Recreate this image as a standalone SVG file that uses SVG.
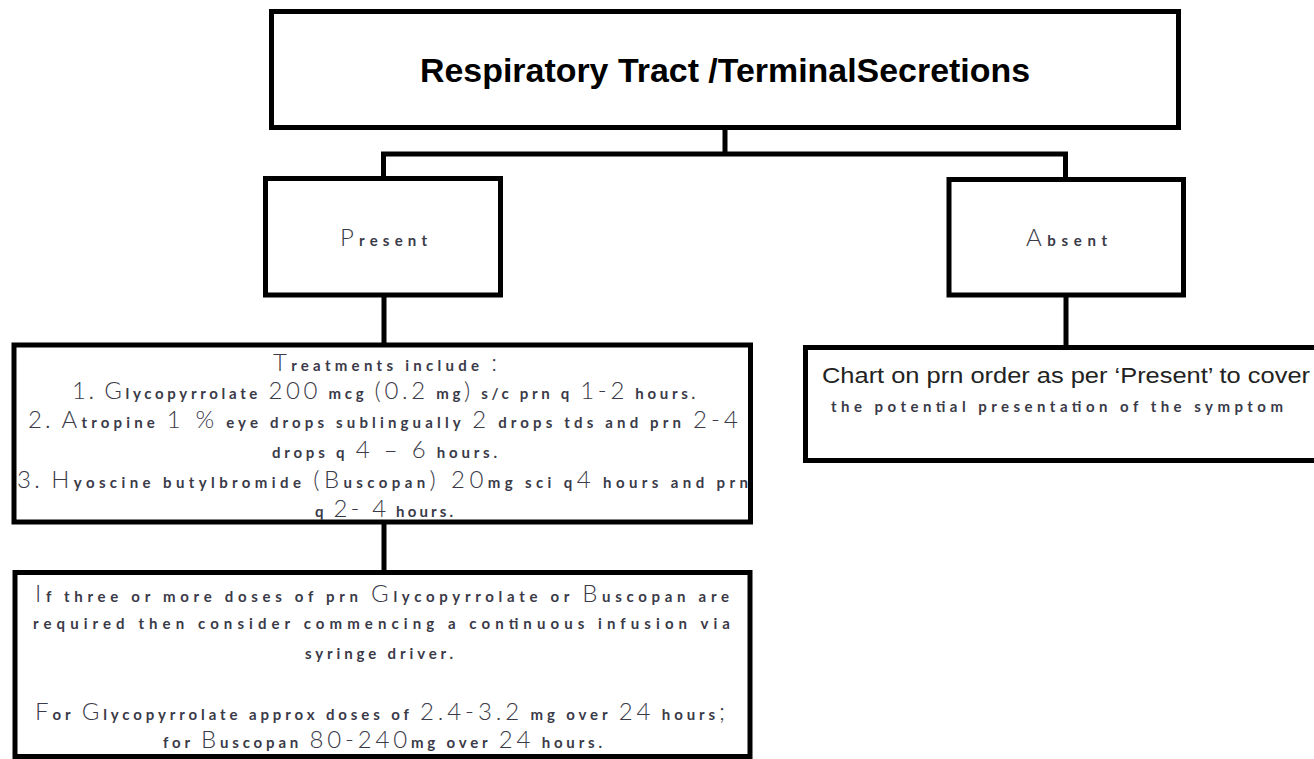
<svg xmlns="http://www.w3.org/2000/svg" width="1314" height="759" viewBox="0 0 1314 759">
<style>
.box{fill:#fff;stroke:#000;stroke-width:5}
.con{fill:none;stroke:#000;stroke-width:5}
.t{font-family:"Lato","Open Sans",sans-serif;font-size:15px;font-weight:700;fill:#3a3a48}
.b{font-size:24px;font-weight:300}
.title{font-family:"Liberation Sans",Arial,sans-serif;font-size:33px;font-weight:bold;fill:#000}
.ar{font-family:"Liberation Sans",Arial,sans-serif;font-size:22px;fill:#222}
</style>
<rect width="1314" height="759" fill="#fff"/>
<g id="connectors">
<path class="con" d="M725,130 V154 M383.5,179 V154 H1065.5 V179"/>
<path class="con" d="M384,296 V346"/>
<path class="con" d="M1066,296 V348"/>
<path class="con" d="M384,523 V573"/>
</g>
<g id="title">
<rect class="box" x="271.5" y="11.5" width="907" height="116"/>
<text class="title" x="725" y="82" text-anchor="middle" textLength="610" lengthAdjust="spacingAndGlyphs">Respiratory Tract /TerminalSecretions</text>
</g>
<g id="present">
<rect class="box" x="265.5" y="178.5" width="235" height="116.5"/>
<text class="t" x="340" y="246" textLength="87" lengthAdjust="spacing"><tspan class="b">P</tspan>resent</text>
</g>
<g id="absent">
<rect class="box" x="949" y="179.5" width="234.5" height="115.5"/>
<text class="t" x="1026" y="246" textLength="81" lengthAdjust="spacing"><tspan class="b">A</tspan>bsent</text>
</g>
<g id="treatments">
<rect class="box" x="14" y="345" width="736.5" height="177"/>
<text class="t" x="273" y="371" textLength="224" lengthAdjust="spacing"><tspan class="b">T</tspan>reatments include <tspan class="b">:</tspan></text>
<text class="t" x="72" y="399" textLength="623" lengthAdjust="spacing"><tspan class="b">1</tspan>. <tspan class="b">G</tspan>lycopyrrolate <tspan class="b">200</tspan> mcg <tspan class="b">(0.2</tspan> mg<tspan class="b">)</tspan> s/c prn q <tspan class="b">1-2</tspan> hours.</text>
<text class="t" x="28" y="428" textLength="710" lengthAdjust="spacing"><tspan class="b">2</tspan>. <tspan class="b">A</tspan>tropine <tspan class="b">1 %</tspan> eye drops sublingually <tspan class="b">2</tspan> drops tds and prn <tspan class="b">2-4</tspan></text>
<text class="t" x="272" y="458" textLength="225" lengthAdjust="spacing">drops q <tspan class="b">4 – 6</tspan> hours.</text>
<text class="t" x="17" y="488" textLength="731" lengthAdjust="spacing"><tspan class="b">3</tspan>. <tspan class="b">H</tspan>yoscine butylbromide <tspan class="b">(B</tspan>uscopan<tspan class="b">) 20</tspan>mg sci q<tspan class="b">4</tspan> hours and prn</text>
<text class="t" x="315" y="517" textLength="138" lengthAdjust="spacing">q <tspan class="b">2- 4</tspan> hours.</text>
</g>
<g id="infusion">
<rect class="box" x="15" y="572.5" width="735" height="184"/>
<text class="t" x="35" y="602" textLength="694" lengthAdjust="spacing"><tspan class="b">I</tspan>f three or more doses of prn <tspan class="b">G</tspan>lycopyrrolate or <tspan class="b">B</tspan>uscopan are</text>
<text class="t" x="33" y="629" textLength="697" lengthAdjust="spacing">required then consider commencing a continuous infusion via</text>
<text class="t" x="305" y="659" textLength="148" lengthAdjust="spacing">syringe driver.</text>
<text class="t" x="35" y="720" textLength="690" lengthAdjust="spacing"><tspan class="b">F</tspan>or <tspan class="b">G</tspan>lycopyrrolate approx doses of <tspan class="b">2.4-3.2</tspan> mg over <tspan class="b">24</tspan> hours<tspan class="b">;</tspan></text>
<text class="t" x="163" y="748" textLength="439" lengthAdjust="spacing">for <tspan class="b">B</tspan>uscopan <tspan class="b">80-240</tspan>mg over <tspan class="b">24</tspan> hours.</text>
</g>
<g id="absent-chart">
<rect class="box" x="805.5" y="347.5" width="530" height="113"/>
<text class="ar" x="822" y="383" textLength="488" lengthAdjust="spacingAndGlyphs">Chart on prn order as per ‘Present’ to cover</text>
<text class="t" x="831" y="412" textLength="452" lengthAdjust="spacing">the potential presentation of the symptom</text>
</g>
</svg>
